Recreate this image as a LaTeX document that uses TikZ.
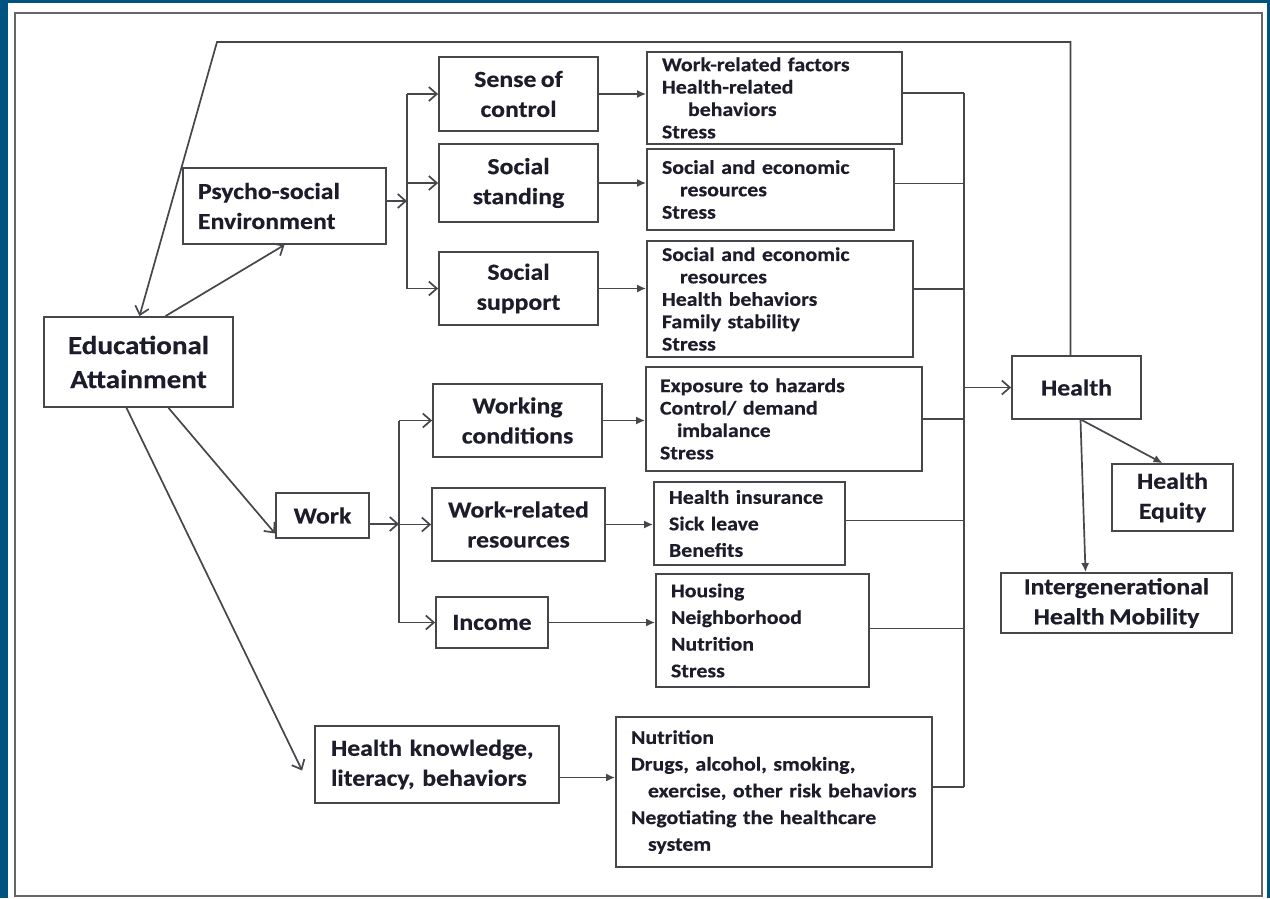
\documentclass[tikz,border=0pt]{standalone}
\usepackage{fontspec}
\setmainfont{Carlito}[BoldFeatures={FakeStretch=1.12,FakeBold=0.4,WordSpace=0.75}]
\usetikzlibrary{arrows.meta,calc}
\definecolor{frameblue}{RGB}{0,82,128}
\definecolor{ink}{RGB}{28,28,42}
\definecolor{boxline}{RGB}{70,70,75}

\tikzset{
  box/.style={draw=boxline, line width=1.8pt, text=ink, inner sep=0pt, align=center,
    font=\bfseries\fontsize{23}{30}\selectfont},
  outbox/.style={draw=boxline, line width=1.8pt, text=ink, inner sep=0pt, align=left,
    font=\bfseries\fontsize{19.5}{22.4}\selectfont},
  link/.style={draw=boxline, line width=1.7pt},
  opn/.style={link, -{Straight Barb[length=8pt,width=14pt]}},
  fill arrow/.style={link, -{Latex[length=9pt,width=8pt]}},
}

\begin{document}
\begin{tikzpicture}[x=1pt,y=-1pt]
  % frame
  \fill[frameblue] (0,0) rectangle (1270,898);
  \fill[white] (8,3) rectangle (1267,898);
  \draw[gray!80!black, line width=2.2pt] (15,13) rectangle (1262,896);
  \useasboundingbox (0,0) rectangle (1270,898);

  % main boxes
  \node[box, minimum width=189pt, minimum height=90pt, font=\bfseries\fontsize{26}{34}\selectfont]
    (edu) at (138.5,362) {Educational\\Attainment};
  \node[box, minimum width=203pt, minimum height=76pt, text width=173pt, align=left]
    (psy) at (284.5,206) {Psycho-social\\Environment};
  \node[box, minimum width=159pt, minimum height=74pt] (sense) at (518.5,94) {Sense of\\control};
  \node[box, minimum width=159pt, minimum height=78pt] (stand) at (518.5,183) {Social\\standing};
  \node[box, minimum width=159pt, minimum height=73pt] (supp) at (518.5,288.5) {Social\\support};
  \node[box, minimum width=93pt, minimum height=45pt] (work) at (322.5,515.5) {Work};
  \node[box, minimum width=169pt, minimum height=73pt] (wcond) at (517.5,420.5) {Working\\conditions};
  \node[box, minimum width=173pt, minimum height=73pt] (wres) at (518.5,524.5) {Work-related\\resources};
  \node[box, minimum width=112pt, minimum height=51pt] (income) at (492,622.5) {Income};
  \node[box, minimum width=244pt, minimum height=77pt, text width=212pt, align=left]
    (hk) at (437,764.5) {Health knowledge,\\literacy, behaviors};
  \node[box, minimum width=129pt, minimum height=63pt] (health) at (1076.5,387.5) {Health};
  \node[box, minimum width=121pt, minimum height=67pt] (equity) at (1172.5,497.5) {Health\\Equity};
  \node[box, minimum width=231pt, minimum height=60pt] (inter) at (1116.5,603)
    {Intergenerational\\Health Mobility};

  % pathway boxes
  \node[outbox, minimum width=255pt, minimum height=92pt, text width=225pt] (o1) at (774.5,98)
    {Work-related factors\\Health-related\\\hspace*{26pt}behaviors\\Stress};
  \node[outbox, minimum width=247pt, minimum height=81pt, text width=217pt] (o2) at (770.5,189.5)
    {Social and economic\\\hspace*{18pt}resources\\Stress};
  \node[outbox, minimum width=266pt, minimum height=116pt, text width=236pt] (o3) at (780,299)
    {Social and economic\\\hspace*{18pt}resources\\Health behaviors\\Family stability\\Stress};
  \node[outbox, minimum width=276pt, minimum height=104pt, text width=248pt] (o4) at (784,419)
    {Exposure to hazards\\Control/ demand\\\hspace*{17pt}imbalance\\Stress};
  \node[outbox, minimum width=191pt, minimum height=83pt, text width=161pt,
    font=\bfseries\fontsize{19.5}{26.5}\selectfont] (o5) at (749.5,523.5)
    {Health insurance\\Sick leave\\Benefits};
  \node[outbox, minimum width=213pt, minimum height=113pt, text width=183pt,
    font=\bfseries\fontsize{19.5}{26.7}\selectfont] (o6) at (762.5,630.5)
    {Housing\\Neighborhood\\Nutrition\\Stress};
  \node[outbox, minimum width=316pt, minimum height=150pt, text width=286pt,
    font=\bfseries\fontsize{19.5}{26.7}\selectfont] (o7) at (774,792)
    {Nutrition\\Drugs, alcohol, smoking,\\\hspace*{17pt}exercise, other risk behaviors\\Negotiating the healthcare\\\hspace*{17pt}system};

  \coordinate (psyfork) at (407,201);
  \coordinate (workfork) at (399,524);
  \coordinate (bustop) at (964,93);
  \coordinate (busbot) at (964,787);
  \coordinate (loop) at (217,42);

  % from educational attainment
  \draw[opn] ([xshift=27pt]edu.north) -- (psy.south);
  \draw[opn] ([xshift=30pt]edu.south) -- ([yshift=-18pt]work.west);
  \draw[opn] ([xshift=-12pt]edu.south) -- ($(hk.west)+(-12,6)$);

  % forks
  \draw[opn] ([yshift=5pt]psy.east) -- (psyfork);
  \draw[link] (sense.west -| psyfork) -- (supp.west -| psyfork);
  \foreach \b in {sense,stand,supp}
    \draw[opn] (\b.west -| psyfork) -- (\b.west);
  \draw[opn] ([yshift=-8.5pt]work.east) -- (workfork);
  \draw[link] (wcond.west -| workfork) -- (income.west -| workfork);
  \foreach \b in {wcond,wres,income}
    \draw[opn] (\b.west -| workfork) -- (\b.west);

  % to pathway boxes
  \foreach \a/\b in {sense/o1,stand/o2,supp/o3,wcond/o4,wres/o5,income/o6}
    \draw[fill arrow] (\a.east) -- (\a.east -| \b.west);
  \draw[fill arrow] ([yshift=-13pt]hk.east) -- ([yshift=-13pt]hk.east -| o7.west);

  % collecting line
  \draw[link] (bustop) -- (busbot);
  \foreach \b/\s in {o1/5,o2/6,o3/10,o4/0,o5/3,o6/2,o7/5} {
    \coordinate (tmp) at ([yshift=\s pt]\b.east);
    \draw[link] (tmp) -- (tmp -| bustop);
  }
  \draw[opn] (health.west -| bustop) -- (health.west);

  % outcomes and feedback
  \draw[fill arrow] ([xshift=5pt]health.south) -- ([xshift=-10pt]equity.north);
  \draw[fill arrow] ([xshift=4pt]health.south) -- ([xshift=-31pt]inter.north);
  \draw[opn] ([xshift=-6pt]health.north) |- (loop) -- ([xshift=1pt]edu.north);
\end{tikzpicture}
\end{document}
